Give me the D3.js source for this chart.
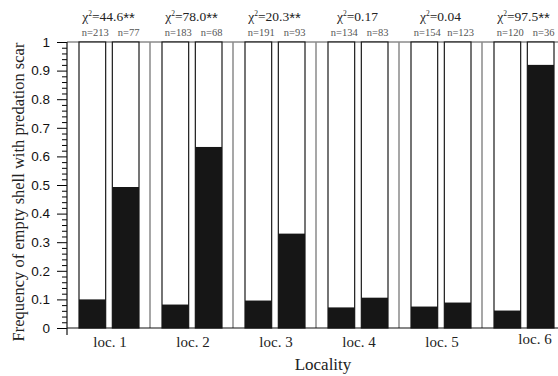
<!DOCTYPE html>
<html>
<head>
<meta charset="utf-8">
<script src="https://cdn.jsdelivr.net/npm/d3@7"></script>
<style>
  body { margin: 0; background: #fff; }
  svg { display: block; }
</style>
</head>
<body>
<div class="chart"></div>
<script>
// ------------------------------------------------------
const width = 558;
const height = 376;
// ------------------------------------------------------
const localities = [ 'loc. 1', 'loc. 2', 'loc. 3', 'loc. 4', 'loc. 5', 'loc. 6' ];
const chiValues = [ '44.6', '78.0', '20.3', '0.17', '0.04', '97.5' ];
const chiSignif = [ '**', '**', '**', '', '', '**' ];
const nFirst = [ 213, 183, 191, 134, 154, 120 ];
const nSecond = [ 77, 68, 93, 83, 123, 36 ];
const freqFirst = [ 0.10, 0.082, 0.096, 0.072, 0.075, 0.061 ];
const freqSecond = [ 0.493, 0.633, 0.33, 0.106, 0.089, 0.92 ];
const yTicks = [ 0, 0.1, 0.2, 0.3, 0.4, 0.5, 0.6, 0.7, 0.8, 0.9, 1 ];
// ------------------------------------------------------
const plotLeft = 67, plotTop = 42, plotBottom = 328;
const groupWidth = 83;

const svg = d3.select( '.chart' ).append( 'svg' )
    .attr( 'width', width )
    .attr( 'height', height );

const x = d3.scaleBand()
    .domain( localities )
    .range( [ plotLeft, plotLeft + groupWidth * localities.length ] )
    .padding( 0 );

const sub = d3.scaleBand()
    .domain( [ 0, 1 ] )
    .range( [ 12, 72 ] )
    .paddingInner( 0.2 );

const y = d3.scaleLinear()
    .domain( [ 0, 1 ] )
    .range( [ plotBottom, plotTop ] );

// ------------------------------------------------------
// group separators + top frame line
const plotRight = plotLeft + groupWidth * localities.length;
svg.append( 'g' ).selectAll( 'line' )
    .data( localities )
    .enter().append( 'line' )
    .attr( 'x1', d => x( d ) + x.bandwidth() )
    .attr( 'x2', d => x( d ) + x.bandwidth() )
    .attr( 'y1', plotTop )
    .attr( 'y2', plotBottom )
    .attr( 'stroke', '#8a8a8a' )
    .attr( 'stroke-width', 1.5 );

svg.append( 'line' )
    .attr( 'x1', plotLeft ).attr( 'x2', plotRight )
    .attr( 'y1', plotTop ).attr( 'y2', plotTop )
    .attr( 'stroke', '#8a8a8a' )
    .attr( 'stroke-width', 1.5 );

// ------------------------------------------------------
// bars
const bars = [];
localities.forEach( ( loc, i ) => {
    bars.push( { loc: loc, k: 0, v: freqFirst[ i ], n: nFirst[ i ] } );
    bars.push( { loc: loc, k: 1, v: freqSecond[ i ], n: nSecond[ i ] } );
});

const barG = svg.append( 'g' ).selectAll( 'g' )
    .data( bars )
    .enter().append( 'g' )
    .attr( 'transform', d => 'translate(' + ( x( d.loc ) + sub( d.k ) ) + ',0)' );

barG.append( 'rect' )
    .attr( 'x', 0 )
    .attr( 'y', y( 1 ) )
    .attr( 'width', sub.bandwidth() )
    .attr( 'height', y( 0 ) - y( 1 ) )
    .attr( 'fill', '#fff' )
    .attr( 'stroke', '#1a1a1a' )
    .attr( 'stroke-width', 1.2 );

barG.append( 'rect' )
    .attr( 'x', 0 )
    .attr( 'y', d => y( d.v ) )
    .attr( 'width', sub.bandwidth() )
    .attr( 'height', d => y( 0 ) - y( d.v ) )
    .attr( 'fill', '#161616' );

barG.append( 'text' )
    .attr( 'x', sub.bandwidth() / 2 + 3 )
    .attr( 'y', 36 )
    .attr( 'text-anchor', 'middle' )
    .attr( 'font-family', 'Liberation Serif, serif' )
    .attr( 'font-size', 10.5 )
    .attr( 'fill', '#555' )
    .text( d => 'n=' + d.n );

// ------------------------------------------------------
// chi-square labels
const chi = svg.append( 'g' ).selectAll( 'text' )
    .data( localities )
    .enter().append( 'text' )
    .attr( 'x', d => x( d ) + groupWidth / 2 )
    .attr( 'y', 21 )
    .attr( 'text-anchor', 'middle' )
    .attr( 'font-family', 'Liberation Serif, serif' )
    .attr( 'font-size', 13.5 )
    .attr( 'fill', '#222' );
chi.append( 'tspan' ).text( 'χ' );
chi.append( 'tspan' ).attr( 'font-size', 7.5 ).attr( 'dy', -5 ).text( '2' );
chi.append( 'tspan' ).attr( 'dy', 5 ).text( ( d, i ) => '=' + chiValues[ i ] );
chi.append( 'tspan' )
    .attr( 'font-family', 'Liberation Sans, sans-serif' )
    .attr( 'font-size', 15 )
    .attr( 'dy', 2 )
    .text( ( d, i ) => chiSignif[ i ] );

// ------------------------------------------------------
// axes
const yAxis = svg.append( 'g' )
    .attr( 'transform', 'translate(' + plotLeft + ',0)' )
    .call( d3.axisLeft( y )
        .tickValues( yTicks )
        .tickSize( 10 )
        .tickPadding( 7 )
        .tickFormat( d => d === 0 || d === 1 ? String( d ) : d3.format( '.1f' )( d ) ) );
yAxis.select( '.domain' ).remove();
yAxis.selectAll( 'text' )
    .attr( 'font-family', 'Liberation Sans, sans-serif' )
    .attr( 'font-size', 13.5 )
    .attr( 'fill', '#111' );

svg.append( 'g' )
    .attr( 'transform', 'translate(' + plotLeft + ',0)' )
    .call( d3.axisLeft( y )
        .tickValues( d3.range( 0, 51 ).map( i => i / 50 ).filter( ( d, i ) => i % 5 !== 0 ) )
        .tickSize( 5 )
        .tickFormat( '' ) )
    .select( '.domain' ).remove();

svg.append( 'line' )
    .attr( 'x1', plotLeft ).attr( 'x2', plotLeft )
    .attr( 'y1', plotTop ).attr( 'y2', plotBottom + 7 )
    .attr( 'stroke', '#111' ).attr( 'stroke-width', 1.2 );

svg.append( 'line' )
    .attr( 'x1', plotLeft ).attr( 'x2', plotRight )
    .attr( 'y1', plotBottom ).attr( 'y2', plotBottom )
    .attr( 'stroke', '#111' ).attr( 'stroke-width', 1.2 );

// locality labels
svg.append( 'g' ).selectAll( 'text' )
    .data( localities )
    .enter().append( 'text' )
    .attr( 'x', d => x( d ) + 43 )
    .attr( 'y', plotBottom + 19 )
    .attr( 'dx', ( d, i ) => i === localities.length - 1 ? 10 : 0 )
    .attr( 'dy', ( d, i ) => i === localities.length - 1 ? -3 : 0 )
    .attr( 'text-anchor', 'middle' )
    .attr( 'font-family', 'Liberation Serif, serif' )
    .attr( 'font-size', 15 )
    .attr( 'fill', '#222' )
    .text( d => d );

// titles
svg.append( 'text' )
    .attr( 'x', 323 )
    .attr( 'y', 370 )
    .attr( 'text-anchor', 'middle' )
    .attr( 'font-family', 'Liberation Serif, serif' )
    .attr( 'font-size', 17 )
    .attr( 'fill', '#222' )
    .text( 'Locality' );

svg.append( 'text' )
    .attr( 'transform', 'translate(24,192) rotate(-90)' )
    .attr( 'text-anchor', 'middle' )
    .attr( 'font-family', 'Liberation Serif, serif' )
    .attr( 'font-size', 16.5 )
    .attr( 'fill', '#222' )
    .text( 'Frequency of empty shell with predation scar' );
</script>
</body>
</html>
